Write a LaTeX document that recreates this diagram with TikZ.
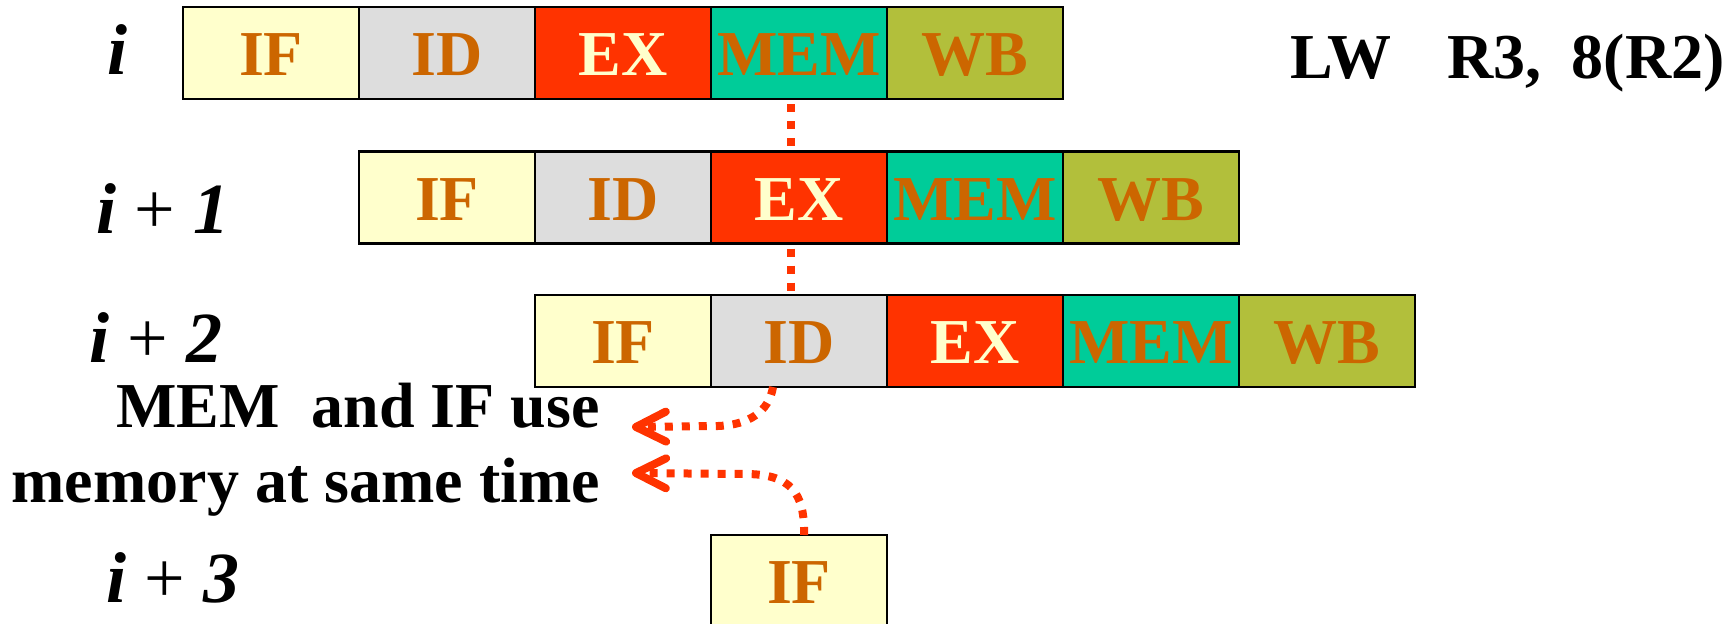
\documentclass[tikz,border=0pt]{standalone}
\usepackage{fontspec}
\setmainfont{Liberation Serif}
\usetikzlibrary{arrows.meta}

\definecolor{ifcol}{HTML}{FFFFCC}
\definecolor{idcol}{HTML}{DDDDDD}
\definecolor{excol}{HTML}{FF3300}
\definecolor{memcol}{HTML}{00CC99}
\definecolor{wbcol}{HTML}{B2BF3B}
\definecolor{stagetext}{HTML}{CC6600}
\definecolor{extext}{HTML}{FFFFCC}
\definecolor{hazard}{HTML}{FF3300}

\newcommand\rowplus{{\mdseries\upshape+}}

\begin{document}
\begin{tikzpicture}[x=1pt,y=-1pt,
  bigfont/.style={font=\fontsize{64}{72}\selectfont\bfseries},
  stage/.style={bigfont, draw=black, line width=2.5pt, minimum width=176pt,
    minimum height=92pt, inner sep=0pt, outer sep=0pt,
    text height=45pt, text depth=0pt, text=stagetext},
  sif/.style={stage, fill=ifcol},
  sid/.style={stage, fill=idcol},
  sex/.style={stage, fill=excol, text=extext},
  smem/.style={stage, fill=memcol},
  swb/.style={stage, fill=wbcol},
  rowlabel/.style={font=\fontsize{72}{80}\selectfont\bfseries\itshape,
    anchor=base, inner sep=0pt},
  plain/.style={bigfont, inner sep=0pt},
  dotline/.style={draw=hazard, line width=8pt, dash pattern=on 8pt off 9pt},
  hazardarrow/.style={dotline,
    -{Straight Barb[length=30pt,width=30pt,line width=8pt,round]}}
]
\useasboundingbox (0,0) rectangle (1733,624);

% instruction i
\node[sif]  (r1if)  at (271,53) {IF};
\node[sid]  (r1id)  at (447,53) {ID};
\node[sex]  (r1ex)  at (623,53) {EX};
\node[smem] (r1mem) at (799,53) {MEM};
\node[swb]  (r1wb)  at (975,53) {WB};

% instruction i+1
\node[sif]  (r2if)  at (447,197.5) {IF};
\node[sid]  (r2id)  at (623,197.5) {ID};
\node[sex]  (r2ex)  at (799,197.5) {EX};
\node[smem] (r2mem) at (975,197.5) {MEM};
\node[swb]  (r2wb)  at (1151,197.5) {WB};

% instruction i+2
\node[sif]  (r3if)  at (623,341) {IF};
\node[sid]  (r3id)  at (799,341) {ID};
\node[sex]  (r3ex)  at (975,341) {EX};
\node[smem] (r3mem) at (1151,341) {MEM};
\node[swb]  (r3wb)  at (1327,341) {WB};

% instruction i+3
\node[sif]  (r4if)  at (799,581) {IF};

% row labels
\node[rowlabel] (lab1) at (118,74)  {i};
\node[rowlabel] (lab2) at (163,233) {i \rowplus{} 1};
\node[rowlabel] (lab3) at (156,362) {i \rowplus{} 2};
\node[rowlabel] (lab4) at (173,602) {i \rowplus{} 3};

% instruction text
\node[plain, anchor=base east]
  (instr) at (1725,78) {LW\hspace{56pt}R3,\hspace{30pt}8(R2)};

% hazard note
\node[plain, anchor=base east] (note1) at (600,427) {MEM\ \ and IF use};
\node[plain, anchor=base east] (note2) at (600,502) {memory at same time};

% dotted links between the stages
\draw[dotline] ([xshift=-8pt,yshift=-5pt]r1mem.south) -- ([xshift=-8pt]r2ex.north);
\draw[dotline] ([xshift=-8pt,yshift=-5pt]r2ex.south) -- ([xshift=-8pt]r3id.north);

\coordinate (tip1) at (632,427);
\coordinate (tip2) at (632,473);
\draw[hazardarrow] ([xshift=-26pt]r3id.south)
  .. controls (769,412) and (748,425) .. (718,426) -- (tip1);
\draw[hazardarrow] ([xshift=5pt]r4if.north)
  .. controls (805,492) and (790,474) .. (745,474) -- (tip2);
\end{tikzpicture}
\end{document}
